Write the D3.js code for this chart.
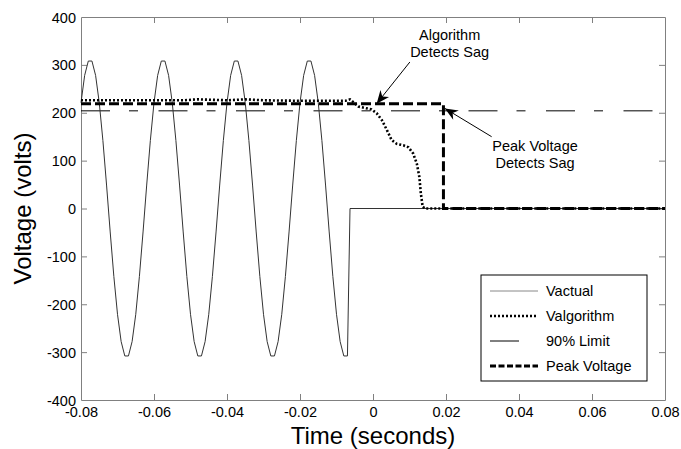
<!DOCTYPE html>
<html><head><meta charset="utf-8">
<script src="https://cdn.jsdelivr.net/npm/d3@7"></script>
<style>
body{margin:0;background:#fff;}
text{font-family:"Liberation Sans",Arial,sans-serif;fill:#000;}
</style></head>
<body><svg id="c" width="681" height="449"></svg>
<script>
// ---- data ----
const vactualT = [-0.080,-0.079,-0.078,-0.077,-0.076,-0.075,-0.074,-0.073,-0.072,-0.071,-0.070,-0.069,-0.068,-0.067,-0.066,-0.065,-0.064,-0.063,-0.062,-0.061,
 -0.060,-0.059,-0.058,-0.057,-0.056,-0.055,-0.054,-0.053,-0.052,-0.051,-0.050,-0.049,-0.048,-0.047,-0.046,-0.045,-0.044,-0.043,-0.042,-0.041,
 -0.040,-0.039,-0.038,-0.037,-0.036,-0.035,-0.034,-0.033,-0.032,-0.031,-0.030,-0.029,-0.028,-0.027,-0.026,-0.025,-0.024,-0.023,-0.022,-0.021,
 -0.020,-0.019,-0.018,-0.017,-0.016,-0.015,-0.014,-0.013,-0.012,-0.011,-0.010,-0.009,-0.008,-0.007,-0.0063,0.080];
const vactualV = [221,278,308,308,278,221,142,49,-49,-142,-221,-278,-308,-308,-278,-221,-142,-49,49,142,
 221,278,308,308,278,221,142,49,-49,-142,-221,-278,-308,-308,-278,-221,-142,-49,49,142,
 221,278,308,308,278,221,142,49,-49,-142,-221,-278,-308,-308,-278,-221,-142,-49,49,142,
 221,278,308,308,278,221,142,49,-49,-142,-221,-278,-308,-308,0,0];
const valgT = [-0.080,-0.070,-0.060,-0.052,-0.048,-0.040,-0.035,-0.030,-0.020,-0.010,-0.0075,-0.0063,-0.0040,-0.0004,0.0010,0.0024,0.0038,0.0051,0.0065,0.0083,0.0097,0.0110,0.0120,0.0127,0.0131,0.0136,0.0142,0.080];
const valgV = [226,226,226,226,228,226,228,226,225,225,225,228,213,207,199,185,164,143,135,132,128,115,94,66,32,4,0,0];
const limitT = [-0.080,0.080];
const limitV = [204,204];
const peakT = [-0.080,0.0193,0.0193,0.080];
const peakV = [219,219,0,0];
const xTicks = [-0.08,-0.06,-0.04,-0.02,0,0.02,0.04,0.06,0.08];
const xTickLabels = ["-0.08","-0.06","-0.04","-0.02","0","0.02","0.04","0.06","0.08"];
const yTicks = [-400,-300,-200,-100,0,100,200,300,400];
const yTickLabels = ["-400","-300","-200","-100","0","100","200","300","400"];
const legendNames = ["Vactual","Valgorithm","90% Limit","Peak Voltage"];

// ---- layout ----
const svg = d3.select("#c");
const L=81,R=665,T=17,B=400;
const x = d3.scaleLinear().domain([-0.08,0.08]).range([L,R]);
const y = d3.scaleLinear().domain([-400,400]).range([B,T]);
const line = d3.line().x(d=>x(d[0])).y(d=>y(d[1]));
const zip=(a,b)=>a.map((v,i)=>[v,b[i]]);

const g = svg.append("g");
const axCol="#808080";
const fs=14.5;
const axB = g.append("g").attr("transform",`translate(0,${B})`)
  .call(d3.axisBottom(x).tickValues(xTicks).tickFormat((d,i)=>xTickLabels[i]).tickSizeInner(-6).tickSizeOuter(0).tickPadding(11));
const axT = g.append("g").attr("transform",`translate(0,${T})`)
  .call(d3.axisTop(x).tickValues(xTicks).tickFormat("").tickSizeInner(-6).tickSizeOuter(0));
const axL = g.append("g").attr("transform",`translate(${L},0)`)
  .call(d3.axisLeft(y).tickValues(yTicks).tickFormat((d,i)=>yTickLabels[i]).tickSizeInner(-6).tickSizeOuter(0).tickPadding(11));
const axR = g.append("g").attr("transform",`translate(${R},0)`)
  .call(d3.axisRight(y).tickValues(yTicks).tickFormat("").tickSizeInner(-6).tickSizeOuter(0));
[axB,axT,axL,axR].forEach(a=>{
  a.selectAll("path").attr("stroke",axCol);
  a.selectAll("line").attr("stroke",axCol);
  a.selectAll("text").attr("font-size",fs).attr("font-family","Liberation Sans, Arial, sans-serif").attr("fill","#000");
});
axL.selectAll("text").attr("x",-5).attr("dy","0.35em");
axB.selectAll("text").attr("y",16.5).attr("dy",0);
axB.selectAll(".tick line").filter(d=>d===-0.08||d===0.08).remove();
axT.selectAll(".tick line").filter(d=>d===-0.08||d===0.08).remove();
axL.selectAll(".tick line").filter(d=>d===-400||d===400).remove();
axR.selectAll(".tick line").filter(d=>d===-400||d===400).remove();

// series
g.append("path").datum(zip(limitT,limitV)).attr("d",line).attr("fill","none")
  .attr("stroke","#000").attr("stroke-width",1).attr("stroke-dasharray","29,19,9,20.5");
g.append("path").datum(zip(vactualT,vactualV)).attr("d",line).attr("fill","none")
  .attr("stroke","#333").attr("stroke-width",1);
g.append("path").datum(zip(peakT,peakV)).attr("d",line).attr("fill","none")
  .attr("stroke","#000").attr("stroke-width",3).attr("stroke-dasharray","10,4");
g.append("path").datum(zip(valgT,valgV)).attr("d",line).attr("fill","none")
  .attr("stroke","#000").attr("stroke-width",2.6).attr("stroke-dasharray","2,2");

// annotations
function arrow(t0,v0,t1,v1){
  const x0=x(t0),y0=y(v0),x1=x(t1),y1=y(v1);
  const a=Math.atan2(y1-y0,x1-x0);
  g.append("line").attr("x1",x0).attr("y1",y0).attr("x2",x1).attr("y2",y1).attr("stroke","#000").attr("stroke-width",1);
  const len=13,w=5.5,back=9;
  const p=[[x1,y1],
    [x1-len*Math.cos(a)+w*Math.sin(a), y1-len*Math.sin(a)-w*Math.cos(a)],
    [x1-back*Math.cos(a), y1-back*Math.sin(a)],
    [x1-len*Math.cos(a)-w*Math.sin(a), y1-len*Math.sin(a)+w*Math.cos(a)]];
  g.append("path").attr("d","M"+p.map(q=>q.join(",")).join("L")+"Z").attr("fill","#000");
}
arrow(0.0101,306,0.0010,219);
arrow(0.0325,150,0.0197,209);
const ann=(t,v,lines)=>{
  const tx=g.append("text").attr("x",x(t)).attr("y",y(v)).attr("text-anchor","middle").attr("font-size",fs);
  lines.forEach((s,i)=>tx.append("tspan").attr("x",x(t)).attr("dy",i?"1.2em":0).text(s));
};
ann(0.0210,352,["Algorithm","Detects Sag"]);
ann(0.0444,120,["Peak Voltage","Detects Sag"]);

// legend
const lg=g.append("g");
lg.append("rect").attr("x",481).attr("y",275).attr("width",166).attr("height",106).attr("fill","#fff").attr("stroke","#000").attr("stroke-width",1);
const styles=[{w:1,c:"#888",da:null,x2:538},{w:2.6,c:"#000",da:"2,2",x2:538},{w:1,c:"#000",da:null,x2:519},{w:3,c:"#000",da:"6,2.5",x2:538}];
legendNames.forEach((n,i)=>{
  const yy=291+i*25;
  lg.append("line").attr("x1",490).attr("x2",styles[i].x2).attr("y1",yy).attr("y2",yy)
    .attr("stroke",styles[i].c).attr("stroke-width",styles[i].w).attr("stroke-dasharray",styles[i].da);
  lg.append("text").attr("x",546).attr("y",yy).attr("dy","0.35em").attr("font-size",fs).text(n);
});

// axis titles
svg.append("text").attr("x",373).attr("y",444).attr("text-anchor","middle").attr("font-size",24).text("Time (seconds)");
svg.append("text").attr("transform","translate(31,208.5) rotate(-90)").attr("text-anchor","middle").attr("font-size",24).text("Voltage (volts)");
</script></body></html>
